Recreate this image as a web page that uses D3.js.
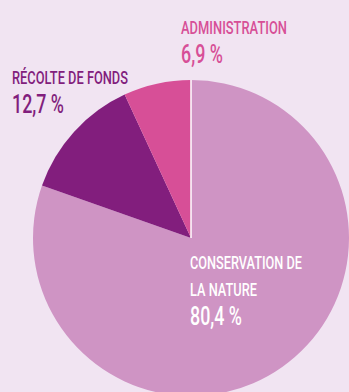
<!DOCTYPE html>
<html>
<head>
<meta charset="utf-8">
<script src="https://cdn.jsdelivr.net/npm/d3@7"></script>
<style>
  body { margin: 0; background: #f1e4f2; }
  svg { display: block; }
  text { font-family: "Roboto", "DejaVu Sans", sans-serif; font-weight: 500; }
</style>
</head>
<body>
<div id="chart"></div>
<script>
//Data
let categories = ["Conservation de la nature", "Récolte de fonds", "Administration"];
let values = [80.4, 12.7, 6.9];
let percentLabels = ["80,4 %", "12,7 %", "6,9 %"];
let nameLines = [["CONSERVATION DE", "LA NATURE"], ["RÉCOLTE DE FONDS"], ["ADMINISTRATION"]];
let colors = ["#cf94c4", "#821e7d", "#d74f97"];

//Dimensions
let width = 349;
let height = 392;
let cx = 191;
let cy = 238;
let radius = 158;

//SVG container
let svg = d3.select("#chart").append("svg")
	.attr("width", width)
	.attr("height", height);

svg.append("rect")
	.attr("width", width)
	.attr("height", height)
	.attr("fill", "#f1e4f2");

let pie = d3.pie().sort(null).value(function(d){ return d; });
let arc = d3.arc().innerRadius(0).outerRadius(radius);

let g = svg.append("g")
	.attr("transform", "translate(" + cx + "," + cy + ")");

//Slices
g.selectAll("path")
		.data(pie(values))
	.enter()
		.append("path")
			.attr("d", arc)
			.attr("fill", function(d, i){ return colors[i]; });

//White separator at the start angle
g.append("line")
	.attr("x1", 0).attr("y1", 0)
	.attr("x2", 0).attr("y2", -radius)
	.attr("stroke", "#ffffff")
	.attr("stroke-width", 1.5);

//Labels: x, first baseline, name colour, name widths, percent width
let labelLayout = [
	{x: 190, y: 269, color: "#ffffff", nameW: [112, 67], pctW: 52, pctY: 325, lineGap: 27},
	{x: 12, y: 84, color: "#821e7d", nameW: [116], pctW: 52, pctY: 113, lineGap: 0},
	{x: 181, y: 34, color: "#d74f97", nameW: [106], pctW: 42, pctY: 63, lineGap: 0}
];

labelLayout.forEach(function(l, i){
	nameLines[i].forEach(function(line, j){
		svg.append("text")
			.attr("x", l.x)
			.attr("y", l.y + j * l.lineGap)
			.attr("fill", l.color)
			.style("font-size", "19px")
			.attr("textLength", l.nameW[j])
			.attr("lengthAdjust", "spacingAndGlyphs")
			.text(line);
	});
	svg.append("text")
		.attr("x", l.x)
		.attr("y", l.pctY)
		.attr("fill", l.color)
		.style("font-size", "26px")
		.attr("textLength", l.pctW)
		.attr("lengthAdjust", "spacingAndGlyphs")
		.text(percentLabels[i]);
});
</script>
</body>
</html>
